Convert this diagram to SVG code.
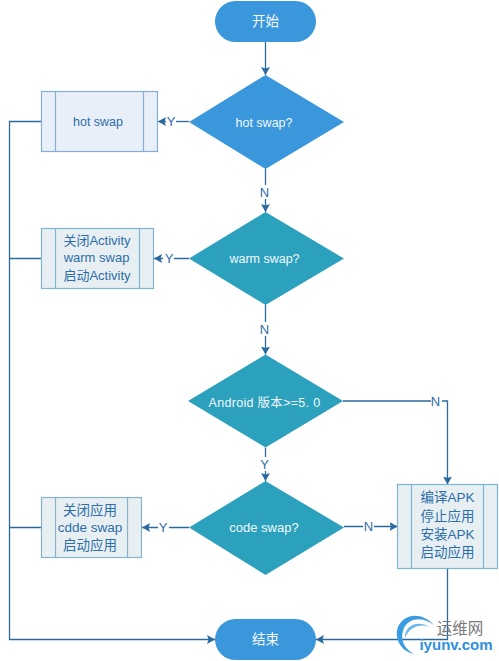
<svg xmlns="http://www.w3.org/2000/svg" width="499" height="661" viewBox="0 0 499 661">
<style>
text{font-family:"Liberation Sans","Noto Sans CJK SC",sans-serif;font-size:12.5px;text-anchor:middle}
.w{fill:#f2f8fc}
.b{fill:#2d6ea8;font-size:13px}
.lg{font-size:13.500px}
.lbl{fill:#2d6ea8;font-size:13px}
.c{fill:none;stroke:#2a6a9e;stroke-width:1.3}
.bl{fill:#3a97dc}
.te{fill:#2ca1bd}
.p1{fill:#e8eff8;stroke:#86aed6;stroke-width:1.2}
.p2{fill:#e7eff3;stroke:#7db6cf;stroke-width:1.2}
.p3{fill:#e7eff3;stroke:#86b3c8;stroke-width:1.2}
.gap{fill:#fff}
</style>
<defs>
<marker id="a" markerUnits="userSpaceOnUse" markerWidth="9" markerHeight="10" refX="8" refY="5" orient="auto"><path d="M0,0.5 L8,5 L0,9.500 L1.500,5 Z" fill="#2a6a9e"/></marker>
</defs>
<g id="connectors">
<path class="c" d="M265.500,42V75" marker-end="url(#a)"/>
<path class="c" d="M189,121.500H158" marker-end="url(#a)"/>
<path class="c" d="M265.500,169V212" marker-end="url(#a)"/>
<path class="c" d="M189,258.500H154" marker-end="url(#a)"/>
<path class="c" d="M265.500,305V354.500" marker-end="url(#a)"/>
<path class="c" d="M265.500,447.500V481" marker-end="url(#a)"/>
<path class="c" d="M189,527.500H142" marker-end="url(#a)"/>
<path class="c" d="M343,401H447.500V484.500" marker-end="url(#a)"/>
<path class="c" d="M344,526.500H397.500" marker-end="url(#a)"/>
<path class="c" d="M447.500,568.500V639.500H316" marker-end="url(#a)"/>
<path class="c" d="M41.500,121.500H9.500V639.500H215" marker-end="url(#a)"/>
<path class="c" d="M41.500,258.500H9.500"/>
<path class="c" d="M41.500,527.500H9.500"/>
<g id="connector-labels">
<rect class="gap" x="166" y="114" width="10" height="15"/><text class="lbl" x="171" y="126">Y</text>
<rect class="gap" x="260" y="185" width="11" height="14"/><text class="lbl" x="264.500" y="197">N</text>
<rect class="gap" x="163" y="251" width="11" height="15"/><text class="lbl" x="169" y="263">Y</text>
<rect class="gap" x="259" y="322" width="11" height="14"/><text class="lbl" x="264.500" y="334">N</text>
<rect class="gap" x="259" y="457" width="11" height="14"/><text class="lbl" x="264.500" y="469">Y</text>
<rect class="gap" x="158" y="520" width="11" height="15"/><text class="lbl" x="163" y="532">Y</text>
<rect class="gap" x="431" y="394" width="11" height="14"/><text class="lbl" x="435.500" y="406">N</text>
<rect class="gap" x="363" y="519" width="11" height="14"/><text class="lbl" x="368.500" y="531">N</text>
</g>
</g>
<g id="start"><rect class="bl" x="215" y="1" width="101" height="41" rx="20.500"/><text class="w" x="265.500" y="26" style="font-size:13.500px">开始</text></g>
<g id="d1"><path class="bl" d="M189,122L265.500,75L344,122L265.500,169Z"/><text class="w" x="264" y="127">hot swap?</text></g>
<g id="p1"><rect class="p1" x="41.500" y="91.500" width="116" height="60"/><path class="p1" d="M55.500,91.500V151.500M143.500,91.500V151.500"/><text class="b" x="98" y="126" style="font-size:12.500px">hot swap</text></g>
<g id="d2"><path class="te" d="M189,258.500L265.500,212L344,258.500L265.500,305Z"/><text class="w" x="264.500" y="263">warm swap?</text></g>
<g id="p2"><rect class="p2" x="41.500" y="228.500" width="112" height="60"/><path class="p2" d="M55.500,228.500V288.500M139.500,228.500V288.500"/><text class="b" x="97" y="245">关闭Activity</text><text class="b" x="96.500" y="262">warm swap</text><text class="b" x="97" y="280">启动Activity</text></g>
<g id="d3"><path class="te" d="M188,401L265.500,354.500L343,401L265.500,447.500Z"/><text class="w" x="264.500" y="407" style="letter-spacing:.3px">Android 版本&gt;=5. 0</text></g>
<g id="d4"><path class="te" d="M189,527.500L265.500,481L344,527.500L265.500,575Z"/><text class="w" x="264" y="532" style="font-size:13px">code swap?</text></g>
<g id="p3"><rect class="p3" x="41.500" y="497.500" width="100" height="60"/><path class="p3" d="M55.500,497.500V557.500M127.500,497.500V557.500"/><text class="b lg" x="90" y="515">关闭应用</text><text class="b lg" x="90" y="532">cdde swap</text><text class="b lg" x="90" y="550">启动应用</text></g>
<g id="p4"><rect class="p2" x="397.500" y="484.500" width="100" height="84"/><path class="p2" d="M411.500,484.500V568.500M483.500,484.500V568.500"/><text class="b lg" x="447.500" y="502">编译APK</text><text class="b lg" x="447.500" y="521">停止应用</text><text class="b lg" x="447.500" y="539">安装APK</text><text class="b lg" x="447.500" y="557">启动应用</text></g>
<g id="end"><rect class="bl" x="215" y="619" width="101" height="41" rx="20.500"/><text class="w" x="265.500" y="644" style="font-size:13.500px">结束</text></g>
<g id="watermark">
<path d="M414,654C400,651 394,637 398,627C403,615 420,610 434,625C422,616 409,618 404,628C399,640 405,649 414,654Z" fill="#3a9be0"/>
<path d="M405,638C404,627 416,619 430,627C419,623 409,628 405,638Z" fill="#6cb8ea"/>
<text x="460" y="634" style="font-size:15.500px;fill:#777">运维网</text>
<text x="456" y="650" style="font-size:15px;font-weight:bold;fill:#2f8fe0">iyunv.com</text>
</g>
</svg>
